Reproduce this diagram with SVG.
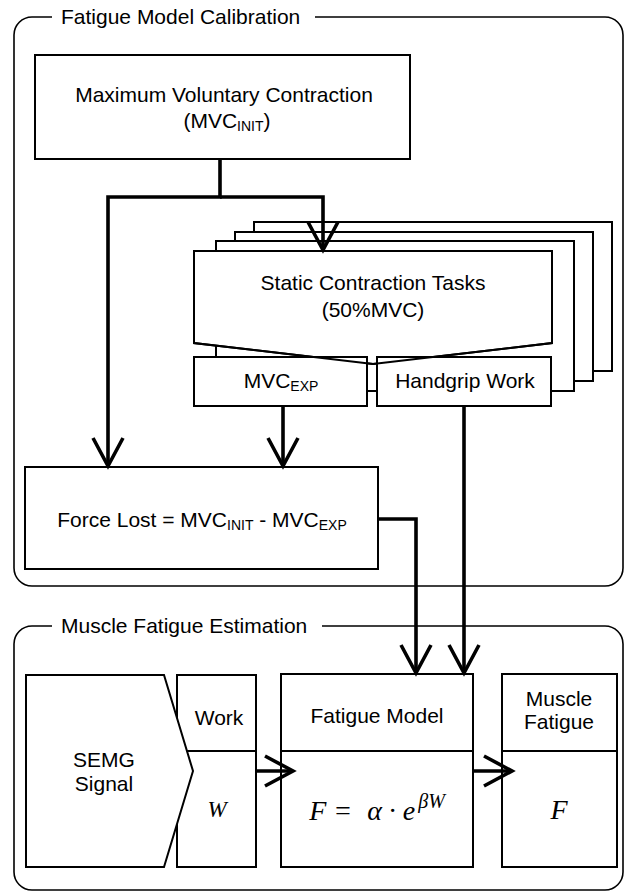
<svg xmlns="http://www.w3.org/2000/svg" width="626" height="894" viewBox="0 0 626 894">
  <defs>
    <style>
      .frame { fill: none; stroke: #000; stroke-width: 1.6; }
      .box { fill: #fff; stroke: #000; stroke-width: 2; }
      .edge { fill: none; stroke: #000; stroke-width: 2; }
      .conn { fill: none; stroke: #000; stroke-width: 3.6; stroke-linejoin: miter; }
      .lbl { font-family: "Liberation Sans", Arial, sans-serif; font-size: 21px; fill: #000; text-anchor: middle; }
      .title { font-family: "Liberation Sans", Arial, sans-serif; font-size: 21px; fill: #000; }
      .sub { font-size: 14px; }
      .math { font-family: "Liberation Serif", "Times New Roman", serif; font-style: italic; fill: #000; text-anchor: middle; }
    </style>
    <marker id="open" markerUnits="userSpaceOnUse" viewBox="-32 -18 36 36" markerWidth="36" markerHeight="36" refX="0" refY="0" orient="auto" overflow="visible">
      <path d="M-28,-15 L0,0 L-28,15" fill="none" stroke="#000" stroke-width="3.6" stroke-linejoin="miter"/>
    </marker>
  </defs>

  <rect width="626" height="894" fill="#fff"/>

  <!-- Section frames -->
  <g id="calibration-frame">
    <path class="frame" d="M315 17 H605 A18 18 0 0 1 623 35 V568 A18 18 0 0 1 605 586 H32 A18 18 0 0 1 14 568 V35 A18 18 0 0 1 32 17 H52"/>
    <text class="title" x="61" y="24">Fatigue Model Calibration</text>
  </g>
  <g id="estimation-frame">
    <path class="frame" d="M322 626 H605 A18 18 0 0 1 623 644 V872 A18 18 0 0 1 605 890 H32 A18 18 0 0 1 14 872 V644 A18 18 0 0 1 32 626 H52"/>
    <text class="title" x="61" y="633">Muscle Fatigue Estimation</text>
  </g>

  <!-- Calibration nodes -->
  <g id="mvc-init">
    <rect class="box" x="35" y="55" width="375" height="104"/>
    <text class="lbl" x="224" y="102">Maximum Voluntary Contraction</text>
    <text class="lbl" x="227" y="128">(MVC<tspan class="sub" dy="3">INIT</tspan><tspan dy="-3">)</tspan></text>
  </g>

  <g id="static-tasks">
    <!-- stacked repetitions behind the front task -->
    <rect class="box" x="254" y="222" width="358" height="149"/>
    <rect class="box" x="235" y="232" width="358" height="149"/>
    <rect class="box" x="216" y="241" width="358" height="150"/>
    <path class="box" d="M194 251 H552 V343 L373 364 L194 343 Z"/>
    <rect class="box" x="194" y="357" width="173" height="49"/>
    <rect class="box" x="377" y="357" width="174" height="49"/>
    <path class="edge" d="M194 251 H552 V343 L373 364 L194 343 Z"/>
    <text class="lbl" x="373" y="290">Static Contraction Tasks</text>
    <text class="lbl" x="373" y="317">(50%MVC)</text>
    <text class="lbl" x="281" y="388">MVC<tspan class="sub" dy="3">EXP</tspan></text>
    <text class="lbl" x="465" y="388">Handgrip Work</text>
  </g>

  <g id="force-lost">
    <rect class="box" x="25" y="467" width="353" height="102"/>
    <text class="lbl" x="202" y="527">Force Lost = MVC<tspan class="sub" dy="3">INIT</tspan><tspan dy="-3"> - MVC</tspan><tspan class="sub" dy="3">EXP</tspan></text>
  </g>

  <!-- Estimation nodes -->
  <g id="work">
    <rect class="box" x="177" y="675" width="79" height="76"/>
    <rect class="box" x="177" y="751" width="79" height="116"/>
    <text class="lbl" x="219" y="725">Work</text>
    <text class="math" x="217" y="817" font-size="23">W</text>
  </g>

  <g id="semg">
    <path class="box" d="M26 675 H164 L193 771 L164 867 H26 Z"/>
    <text class="lbl" x="104" y="767">SEMG</text>
    <text class="lbl" x="104" y="791">Signal</text>
  </g>

  <g id="fatigue-model">
    <rect class="box" x="281" y="674" width="192" height="77"/>
    <rect class="box" x="281" y="751" width="192" height="116"/>
    <text class="lbl" x="377" y="723">Fatigue Model</text>
    <text class="math" x="377" y="820" font-size="28">F = <tspan dx="8">α · e</tspan><tspan font-size="20" dx="3" dy="-12">βW</tspan></text>
  </g>

  <g id="muscle-fatigue">
    <rect class="box" x="502" y="674" width="115" height="77"/>
    <rect class="box" x="502" y="751" width="115" height="116"/>
    <text class="lbl" x="559" y="706">Muscle</text>
    <text class="lbl" x="559" y="729">Fatigue</text>
    <text class="math" x="559" y="819" font-size="28">F</text>
  </g>

  <!-- Connectors -->
  <g id="connectors">
    <path class="conn" d="M220 159 V197 H108 V466" marker-end="url(#open)"/>
    <path class="conn" d="M220 197 H323 V250" marker-end="url(#open)"/>
    <path class="conn" d="M283 406 V466" marker-end="url(#open)"/>
    <path class="conn" d="M378 519 H416 V673" marker-end="url(#open)"/>
    <path class="conn" d="M464 406 V673" marker-end="url(#open)"/>
    <path class="conn" d="M256 771 H293" marker-end="url(#open)"/>
    <path class="conn" d="M473 771 H512" marker-end="url(#open)"/>
  </g>
</svg>
